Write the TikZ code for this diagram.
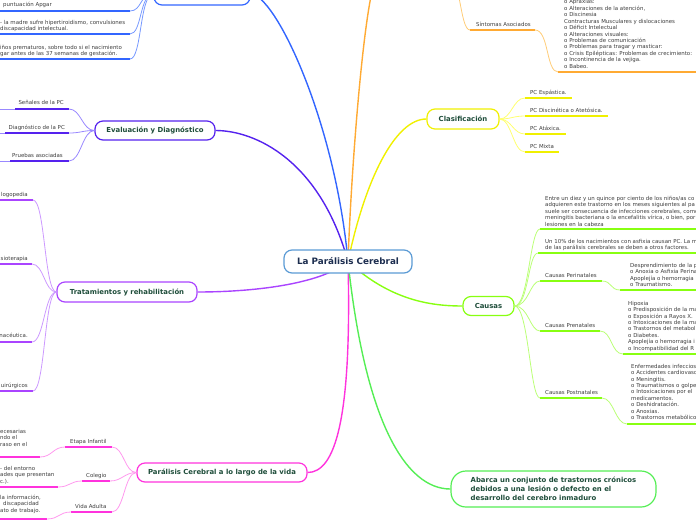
\documentclass[tikz,border=0pt]{standalone}
\usepackage{fontspec}
\setmainfont{DejaVu Sans}
\usetikzlibrary{positioning}
\definecolor{navy}{HTML}{1C2D4F}
\definecolor{tgreen}{HTML}{1E4D3A}
\definecolor{subgray}{HTML}{3C3C3C}
\definecolor{croot}{HTML}{5B9BD5}
\definecolor{cblue}{HTML}{3366FF}
\definecolor{lblue}{HTML}{7799FF}
\definecolor{corange}{HTML}{FFAA33}
\definecolor{lorange}{HTML}{FFCC77}
\definecolor{cyellow}{HTML}{F0F000}
\definecolor{lyellow}{HTML}{FFFF70}
\definecolor{clime}{HTML}{88FF11}
\definecolor{llime}{HTML}{BBFF77}
\definecolor{cgreen}{HTML}{55EE55}
\definecolor{cmagenta}{HTML}{FF33DD}
\definecolor{lmagenta}{HTML}{FF99EE}
\definecolor{cpurple}{HTML}{AA44FF}
\definecolor{lpurple}{HTML}{CC99FF}
\definecolor{cindigo}{HTML}{5522EE}
\definecolor{lindigo}{HTML}{9988FF}

\begin{document}
\begin{tikzpicture}[x=1pt,y=-1pt,
    topic/.style={draw,fill=white,rounded corners=8pt,line width=1.2pt,inner sep=0pt,minimum height=19pt,font=\fontsize{6.9}{9}\selectfont\bfseries,text=tgreen},
    sub/.style={inner sep=0pt,font=\fontsize{5.45}{6.45}\selectfont,text=subgray,align=left},
    branch/.style={line width=1.4pt},
    link/.style={line width=0.8pt},
    uline/.style={line width=1.8pt}]
\useasboundingbox (0,0) rectangle (696,520);
\clip (0,0) rectangle (696,520);

\coordinate (hub) at (348,261.5);

% main topics
\node[topic,draw=cblue,minimum width=96pt,minimum height=22pt] (riesgo) at (202,-6) {};
\node[topic,draw=corange,minimum width=70pt] (sintomas) at (413,-24) {};
\node[topic,draw=cyellow,minimum width=72pt,minimum height=20pt] (clasif) at (463,119) {Clasificación};
\node[topic,draw=cindigo,minimum width=120pt] (eval) at (155,130.5) {Evaluación y Diagnóstico};
\node[topic,draw=cpurple,minimum width=140pt,minimum height=20pt] (trat) at (127,292) {Tratamientos y rehabilitación};
\node[topic,draw=clime,minimum width=51pt] (causas) at (488.5,306) {Causas};
\node[topic,draw=cmagenta,minimum width=170pt] (vida) at (222,472.5) {Parálisis Cerebral a lo largo de la vida};
\node[topic,draw=cgreen,minimum width=205pt,minimum height=36pt,rounded corners=15pt,align=left] (abarca) at (553.5,489) {Abarca un conjunto de trastornos crónicos\\debidos a una lesión o defecto en el\\desarrollo del cerebro inmaduro};

% branches from the centre
\draw[branch,cblue] (hub) .. controls (335,120) and (275,-6) .. (riesgo.east);
\draw[branch,corange] (hub) .. controls (352,150) and (366,-12) .. (sintomas.west);
\draw[branch,cyellow] (hub) .. controls (365,180) and (395,119) .. (clasif.west);
\draw[branch,cindigo] (hub) .. controls (320,160) and (255,130.5) .. (eval.east);
\draw[branch,cpurple] (hub) .. controls (320,285) and (250,292) .. (trat.east);
\draw[branch,cmagenta] (hub) .. controls (352,420) and (335,472.5) .. (vida.east);
\draw[branch,cgreen] (hub) .. controls (365,420) and (405,489) .. (abarca.west);
\draw[branch,clime] (hub) .. controls (390,300) and (430,306) .. (causas.west);

\node[topic,draw=croot,text=navy,minimum width=128pt,minimum height=23pt,font=\fontsize{8.8}{10}\selectfont\bfseries] (root) at (hub) {La Parálisis Cerebral};

% blue: top left
\coordinate (bA0) at (-5,11); \coordinate (bA) at (130,11);
\coordinate (bB0) at (-5,34); \coordinate (bB) at (130,34);
\coordinate (bC0) at (-5,59); \coordinate (bC) at (130,59);
\draw[uline,cblue] (bA0) -- (bA);
\draw[uline,cblue] (bB0) -- (bB);
\draw[uline,cblue] (bC0) -- (bC);
\draw[link,lblue] (riesgo.west) .. controls +(-14,0) and +(12,0) .. (bA);
\draw[link,lblue] (riesgo.west) .. controls +(-14,0) and +(12,0) .. (bB);
\draw[link,lblue] (riesgo.west) .. controls +(-14,0) and +(12,0) .. (bC);
\node[sub,anchor=north west] (apgar) at (3,1.8) {puntuación Apgar};
\node[sub,anchor=north west] (madre) at (0,19.8) {- la madre sufre hipertiroidismo, convulsiones\\discapacidad intelectual.};
\node[sub,anchor=north west] (prema) at (0,44.8) {iños prematuros, sobre todo si el nacimiento\\gar antes de las 37 semanas de gestación.};

% orange: top right
\coordinate (oA0) at (470,30); \coordinate (oA) at (535,30);
\coordinate (oB0) at (558,72); \coordinate (oB) at (700,72);
\draw[uline,corange] (oA0) -- (oA);
\draw[uline,corange] (oB0) -- (oB);
\draw[link,lorange] (sintomas.east) .. controls +(12,0) and +(-10,0) .. (oA0);
\draw[link,lorange] (oA) .. controls +(14,0) and +(-12,0) .. (oB0);
\node[sub,anchor=base west] (asoc) at (476,26) {Síntomas Asociados};
\node[sub,anchor=north west] (lista) at (564,-0.5) {o Apraxias:\\o Alteraciones de la atención,\\o Discinesia\\Contracturas Musculares y dislocaciones\\o Déficit Intelectual\\o Alteraciones visuales:\\o Problemas de comunicación\\o Problemas para tragar y masticar:\\o Crisis Epilépticas: Problemas de crecimiento:\\o Incontinencia de la vejiga.\\o Babeo.};

% yellow
\coordinate (yA0) at (525,98); \coordinate (yA) at (572,98);
\coordinate (yB0) at (525,116); \coordinate (yB) at (608,116);
\coordinate (yC0) at (525,134); \coordinate (yC) at (566,134);
\coordinate (yD0) at (525,152); \coordinate (yD) at (559,152);
\draw[uline,cyellow] (yA0) -- (yA);
\draw[uline,cyellow] (yB0) -- (yB);
\draw[uline,cyellow] (yC0) -- (yC);
\draw[uline,cyellow] (yD0) -- (yD);
\draw[link,lyellow] (clasif.east) .. controls +(12,0) and +(-12,0) .. (yA0);
\draw[link,lyellow] (clasif.east) .. controls +(12,0) and +(-12,0) .. (yB0);
\draw[link,lyellow] (clasif.east) .. controls +(12,0) and +(-12,0) .. (yC0);
\draw[link,lyellow] (clasif.east) .. controls +(12,0) and +(-12,0) .. (yD0);
\node[sub,anchor=base west] (espas) at (530,94) {PC Espástica.};
\node[sub,anchor=base west] (disci) at (530,112) {PC Discinética o Atetósica.};
\node[sub,anchor=base west] (ataxi) at (530,130) {PC Atáxica.};
\node[sub,anchor=base west] (mixta) at (530,148) {PC Mixta};

% lime: causas
\coordinate (gA0) at (540,229); \coordinate (gA) at (700,229);
\coordinate (gB0) at (538,253); \coordinate (gB) at (700,253);
\coordinate (gC0) at (540,281); \coordinate (gC) at (602,281);
\coordinate (gC1) at (620,290); \coordinate (gC2) at (700,290);
\coordinate (gD0) at (540,331); \coordinate (gD) at (600,331);
\coordinate (gD1) at (623,354); \coordinate (gD2) at (700,354);
\coordinate (gE0) at (540,398); \coordinate (gE) at (602,398);
\coordinate (gE1) at (627,424); \coordinate (gE2) at (700,424);
\draw[uline,clime] (gA0) -- (gA);
\draw[uline,clime] (gB0) -- (gB);
\draw[uline,clime] (gC0) -- (gC);
\draw[uline,clime] (gC1) -- (gC2);
\draw[uline,clime] (gD0) -- (gD);
\draw[uline,clime] (gD1) -- (gD2);
\draw[uline,clime] (gE0) -- (gE);
\draw[uline,clime] (gE1) -- (gE2);
\draw[link,llime] (causas.east) .. controls +(14,0) and +(-10,0) .. (gA0);
\draw[link,llime] (causas.east) .. controls +(14,0) and +(-10,0) .. (gB0);
\draw[link,llime] (causas.east) .. controls +(14,0) and +(-10,0) .. (gC0);
\draw[link,llime] (causas.east) .. controls +(14,0) and +(-10,0) .. (gD0);
\draw[link,llime] (causas.east) .. controls +(14,0) and +(-10,0) .. (gE0);
\draw[link,llime] (gC) .. controls +(10,0) and +(-10,0) .. (gC1);
\draw[link,llime] (gD) .. controls +(12,0) and +(-12,0) .. (gD1);
\draw[link,llime] (gE) .. controls +(12,0) and +(-12,0) .. (gE1);
\node[sub,anchor=north west] (diez) at (545,195.8) {Entre un diez y un quince por ciento de los niños/as co\\adquieren este trastorno en los meses siguientes al pa\\suele ser consecuencia de infecciones cerebrales, como\\meningitis bacteriana o la encefalitis vírica, o bien, por\\lesiones en la cabeza};
\node[sub,anchor=north west] (asfix) at (545,238.8) {Un 10\% de los nacimientos con asfixia causan PC. La m\\de las parálisis cerebrales se deben a otros factores.};
\node[sub,anchor=base west] (peri) at (545,277) {Causas Perinatales};
\node[sub,anchor=north west] (periL) at (630,262.8) {Desprendimiento de la p\\o Anoxia o Asfixia Perina\\Apoplejía o hemorragia\\o Traumatismo.};
\node[sub,anchor=base west] (pren) at (545,327) {Causas Prenatales};
\node[sub,anchor=north west] (prenL) at (628,300.8) {Hipoxia\\o Predisposición de la ma\\o Exposición a Rayos X.\\o Intoxicaciones de la ma\\o Trastornos del metabol\\o Diabetes.\\Apoplejía o hemorragia i\\o Incompatibilidad del R};
\node[sub,anchor=base west] (post) at (545,394) {Causas Postnatales};
\node[sub,anchor=north west] (postL) at (631,363.8) {Enfermedades infeccios\\o Accidentes cardiovasc\\o Meningitis.\\o Traumatismos o golpe\\o Intoxicaciones por el\\medicamentos.\\o Deshidratación.\\o Anoxias.\\o Trastornos metabólico};

% indigo
\coordinate (eA0) at (15,109); \coordinate (eA) at (69,109);
\coordinate (eB0) at (5,133); \coordinate (eB) at (69,133);
\coordinate (eC0) at (10,161); \coordinate (eC) at (69,161);
\coordinate (eAx) at (-5,109); \coordinate (eBx) at (-5,133); \coordinate (eCx) at (-5,161);
\draw[uline,cindigo] (eA0) -- (eA);
\draw[uline,cindigo] (eB0) -- (eB);
\draw[uline,cindigo] (eC0) -- (eC);
\draw[link,lindigo] (eA0) -- (eAx);
\draw[link,lindigo] (eB0) -- (eBx);
\draw[link,lindigo] (eC0) -- (eCx);
\draw[link,lindigo] (eval.west) .. controls +(-12,0) and +(12,0) .. (eA);
\draw[link,lindigo] (eval.west) .. controls +(-12,0) and +(12,0) .. (eB);
\draw[link,lindigo] (eval.west) .. controls +(-12,0) and +(12,0) .. (eC);
\node[sub,anchor=base east] (senal) at (64,104) {Señales de la PC};
\node[sub,anchor=base east] (diagn) at (65,129) {Diagnóstico de la PC};
\node[sub,anchor=base east] (prueb) at (63,157) {Pruebas asociadas};

% purple
\coordinate (pA0) at (-5,200); \coordinate (pA) at (33,200);
\coordinate (pB0) at (-5,264); \coordinate (pB) at (32,264);
\coordinate (pC0) at (-5,342); \coordinate (pC) at (32,342);
\coordinate (pD0) at (-5,391); \coordinate (pD) at (33,391);
\draw[uline,cpurple] (pA0) -- (pA);
\draw[uline,cpurple] (pB0) -- (pB);
\draw[uline,cpurple] (pC0) -- (pC);
\draw[uline,cpurple] (pD0) -- (pD);
\draw[link,lpurple] (trat.west) .. controls +(-12,0) and +(12,0) .. (pA);
\draw[link,lpurple] (trat.west) .. controls +(-12,0) and +(12,0) .. (pB);
\draw[link,lpurple] (trat.west) .. controls +(-12,0) and +(12,0) .. (pC);
\draw[link,lpurple] (trat.west) .. controls +(-12,0) and +(12,0) .. (pD);
\node[sub,anchor=base east] (logo) at (28,196) {logopedia};
\node[sub,anchor=base east] (fisio) at (28,260) {isioterapia};
\node[sub,anchor=base east] (farma) at (28,337) {nacéutica.};
\node[sub,anchor=base east] (quiru) at (28,387) {uirúrgicos};

% magenta
\coordinate (mA0) at (65,447); \coordinate (mA) at (112,447);
\coordinate (mB0) at (82,481); \coordinate (mB) at (110,481);
\coordinate (mC0) at (71,512); \coordinate (mC) at (112,512);
\coordinate (nA0) at (-5,457); \coordinate (nA) at (40,457);
\coordinate (nB0) at (-5,487); \coordinate (nB) at (58,487);
\coordinate (nC0) at (-5,519); \coordinate (nC) at (47,519);
\draw[uline,cmagenta] (mA0) -- (mA);
\draw[uline,cmagenta] (mB0) -- (mB);
\draw[uline,cmagenta] (mC0) -- (mC);
\draw[uline,cmagenta] (nA0) -- (nA);
\draw[uline,cmagenta] (nB0) -- (nB);
\draw[uline,cmagenta] (nC0) -- (nC);
\draw[link,lmagenta] (vida.west) .. controls +(-12,0) and +(12,0) .. (mA);
\draw[link,lmagenta] (vida.west) .. controls +(-12,0) and +(12,0) .. (mB);
\draw[link,lmagenta] (vida.west) .. controls +(-12,0) and +(12,0) .. (mC);
\draw[link,lmagenta] (mA0) .. controls +(-12,0) and +(12,0) .. (nA);
\draw[link,lmagenta] (mB0) .. controls +(-12,0) and +(12,0) .. (nB);
\draw[link,lmagenta] (mC0) .. controls +(-12,0) and +(12,0) .. (nC);
\node[sub,anchor=base west] (infan) at (70,443) {Etapa Infantil};
\node[sub,anchor=base west] (coleg) at (86,477) {Colegio};
\node[sub,anchor=base west] (adult) at (75,508) {Vida Adulta};
\node[sub,anchor=north west] (infanL) at (0,428.8) {ecesarias\\ndo el\\raso en el};
\node[sub,anchor=north west] (colegL) at (0,465.8) {- del entorno\\ades que presentan\\c.).};
\node[sub,anchor=north west] (adultL) at (0,494.8) {la información,\\\hspace{3pt}discapacidad\\ato de trabajo.};
\end{tikzpicture}
\end{document}
